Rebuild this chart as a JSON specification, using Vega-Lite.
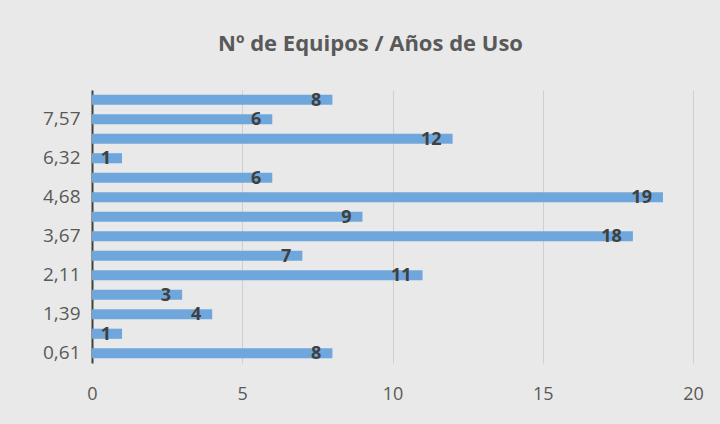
{
  "$schema": "https://vega.github.io/schema/vega-lite/v6.json",
  "autosize": {"type": "none"},
  "width": 601,
  "height": 273,
  "padding": {"left": 92, "top": 90, "right": 27, "bottom": 61},
  "background": "#e9e9e9",
  "config": {
    "view": {"stroke": null},
    "font": "Open Sans"
  },
  "title": {
    "text": "Nº de Equipos / Años de Uso",
    "font": "Open Sans",
    "fontSize": 22,
    "fontWeight": "bold",
    "color": "#595959",
    "anchor": "middle",
    "frame": "group",
    "dx": -22,
    "offset": 34
  },
  "data": {
    "values": [
      {"anos": "0,61", "equipos": 8},
      {"anos": "1,00", "equipos": 1},
      {"anos": "1,39", "equipos": 4},
      {"anos": "1,80", "equipos": 3},
      {"anos": "2,11", "equipos": 11},
      {"anos": "3,00", "equipos": 7},
      {"anos": "3,67", "equipos": 18},
      {"anos": "4,20", "equipos": 9},
      {"anos": "4,68", "equipos": 19},
      {"anos": "5,50", "equipos": 6},
      {"anos": "6,32", "equipos": 1},
      {"anos": "7,00", "equipos": 12},
      {"anos": "7,57", "equipos": 6},
      {"anos": "8,20", "equipos": 8}
    ]
  },
  "encoding": {
    "y": {
      "field": "anos",
      "type": "nominal",
      "sort": ["8,20", "7,57", "7,00", "6,32", "5,50", "4,68", "4,20", "3,67", "3,00", "2,11", "1,80", "1,39", "1,00", "0,61"],
      "scale": {"paddingInner": 0.48, "paddingOuter": 0.24},
      "axis": {
        "title": null,
        "values": ["7,57", "6,32", "4,68", "3,67", "2,11", "1,39", "0,61"],
        "ticks": false,
        "domain": true,
        "domainColor": "#404040",
        "domainWidth": 2,
        "labelFont": "Open Sans",
        "labelFontSize": 19,
        "labelColor": "#595959",
        "labelPadding": 12
      }
    },
    "x": {
      "field": "equipos",
      "type": "quantitative",
      "scale": {"domain": [0, 20]},
      "axis": {
        "title": null,
        "values": [0, 5, 10, 15, 20],
        "domain": false,
        "ticks": false,
        "grid": true,
        "gridColor": "#cfcfcf",
        "gridWidth": 1,
        "labelFlush": false,
        "labelFont": "Open Sans",
        "labelFontSize": 18,
        "labelColor": "#595959",
        "labelPadding": 22
      }
    }
  },
  "layer": [
    {
      "mark": {"type": "bar", "color": "#6fa7dc"}
    },
    {
      "mark": {
        "type": "text",
        "align": "right",
        "baseline": "middle",
        "dx": -11,
        "dy": 1,
        "font": "Open Sans",
        "fontSize": 18,
        "fontWeight": "bold",
        "color": "#404040"
      },
      "encoding": {
        "text": {"field": "equipos", "type": "quantitative"}
      }
    }
  ]
}
